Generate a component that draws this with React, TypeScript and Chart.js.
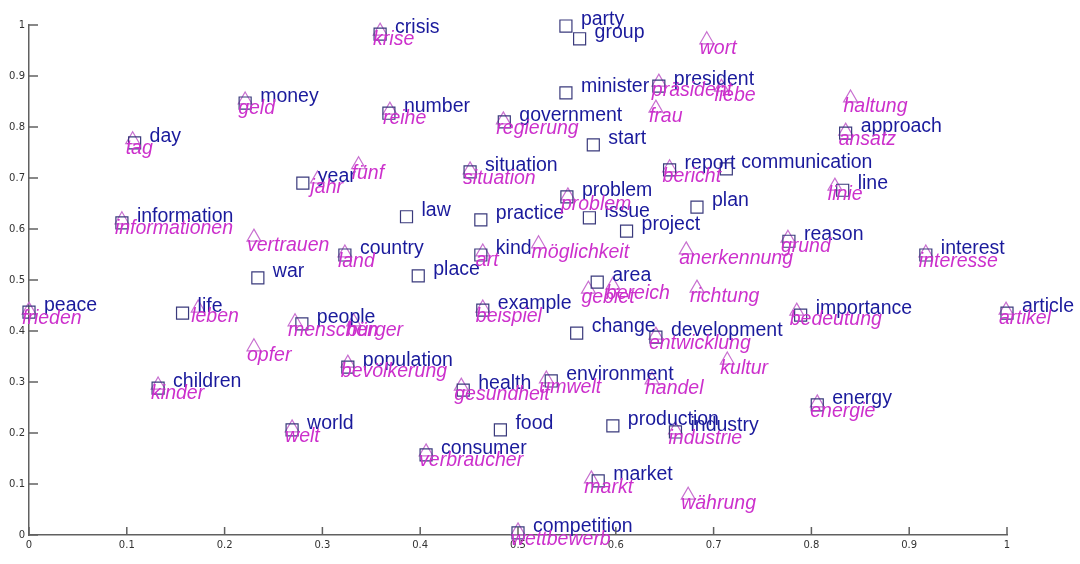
import React, { useEffect, useRef } from "react";
import { Chart, registerables } from "chart.js";

Chart.register(...registerables);

const englishWords = [
  "party", "group", "crisis", "minister", "president", "money", "number", "government",
  "start", "day", "approach", "communication", "report", "situation", "year", "line",
  "problem", "plan", "law", "practice", "issue", "information", "project", "reason",
  "country", "kind", "interest", "war", "place", "area", "peace", "life", "example",
  "importance", "article", "people", "change", "development", "population", "children",
  "health", "environment", "food", "production", "industry", "energy", "world",
  "consumer", "market", "competition",
];
const englishX = [
  0.549, 0.563, 0.359, 0.549, 0.644, 0.221, 0.368, 0.486,
  0.577, 0.108, 0.835, 0.713, 0.655, 0.451, 0.280, 0.832,
  0.550, 0.683, 0.386, 0.462, 0.573, 0.095, 0.611, 0.777,
  0.323, 0.462, 0.917, 0.234, 0.398, 0.581, 0.0, 0.157, 0.464,
  0.789, 1.0, 0.279, 0.560, 0.641, 0.326, 0.132,
  0.444, 0.534, 0.482, 0.597, 0.661, 0.806, 0.269,
  0.406, 0.582, 0.500,
];
const englishY = [
  0.998, 0.973, 0.982, 0.867, 0.880, 0.847, 0.827, 0.810,
  0.765, 0.769, 0.788, 0.718, 0.716, 0.712, 0.690, 0.676,
  0.663, 0.643, 0.624, 0.618, 0.622, 0.612, 0.596, 0.576,
  0.549, 0.549, 0.549, 0.504, 0.508, 0.496, 0.437, 0.435, 0.441,
  0.431, 0.435, 0.414, 0.396, 0.388, 0.329, 0.288,
  0.284, 0.302, 0.206, 0.214, 0.202, 0.255, 0.206,
  0.157, 0.106, 0.004,
];

const germanWords = [
  "frieden", "krise", "geld", "tag", "reihe", "regierung", "präsident", "liebe",
  "wort", "frau", "haltung", "ansatz", "bericht", "situation", "jahr", "fünf",
  "linie", "problem", "informationen", "vertrauen", "land", "art", "möglichkeit",
  "anerkennung", "grund", "interesse", "gebiet", "bereich", "richtung", "leben",
  "beispiel", "bedeutung", "artikel", "menschen", "bürger", "opfer", "entwicklung",
  "kultur", "bevölkerung", "kinder", "gesundheit", "umwelt", "handel", "energie",
  "industrie", "welt", "verbraucher", "markt", "währung", "wettbewerb",
];
const germanX = [
  0.0, 0.359, 0.221, 0.106, 0.369, 0.485, 0.644, 0.708,
  0.693, 0.641, 0.840, 0.835, 0.655, 0.451, 0.295, 0.337,
  0.824, 0.551, 0.095, 0.230, 0.323, 0.464, 0.521,
  0.672, 0.776, 0.917, 0.572, 0.597, 0.683, 0.173,
  0.464, 0.785, 0.999, 0.272, 0.332, 0.230, 0.641,
  0.714, 0.326, 0.132, 0.442, 0.529, 0.637, 0.806,
  0.661, 0.269, 0.406, 0.575, 0.674, 0.500,
];
const germanY = [
  0.441, 0.988, 0.853, 0.775, 0.833, 0.814, 0.888, 0.878,
  0.971, 0.837, 0.857, 0.792, 0.720, 0.716, 0.698, 0.726,
  0.684, 0.665, 0.618, 0.584, 0.553, 0.555, 0.571,
  0.559, 0.582, 0.553, 0.482, 0.490, 0.484, 0.445,
  0.445, 0.439, 0.441, 0.418, 0.418, 0.369, 0.392,
  0.343, 0.337, 0.294, 0.292, 0.306, 0.304, 0.259,
  0.206, 0.210, 0.163, 0.110, 0.078, 0.008,
];

const xTickLabels = ["0", "0.1", "0.2", "0.3", "0.4", "0.5", "0.6", "0.7", "0.8", "0.9", "1"];
const yTickLabels = ["0", "0.1", "0.2", "0.3", "0.4", "0.5", "0.6", "0.7", "0.8", "0.9", "1"];

const EN_TEXT = "#1a1a9c";
const EN_MARK = "#3a3a7c";
const DE_TEXT = "#cc30cc";
const DE_MARK = "#c870d0";

const labelPlugin = {
  id: "wordLabels",
  afterDatasetsDraw(chart: any) {
    const ctx = chart.ctx;
    const lists = [englishWords, germanWords];
    [0, 1].forEach((di) => {
      const meta = chart.getDatasetMeta(di);
      ctx.save();
      ctx.textBaseline = "alphabetic";
      ctx.textAlign = "left";
      if (di === 0) {
        ctx.font = "19.5px 'Liberation Sans', Arial, sans-serif";
        ctx.fillStyle = EN_TEXT;
      } else {
        ctx.font = "italic 19.5px 'Liberation Sans', Arial, sans-serif";
        ctx.fillStyle = DE_TEXT;
      }
      meta.data.forEach((pt: any, i: number) => {
        const w = lists[di][i];
        if (di === 0) ctx.fillText(w, pt.x + 15, pt.y - 1);
        else ctx.fillText(w, pt.x - 7, pt.y + 14);
      });
      ctx.restore();
    });
  },
};

const tickMarkPlugin = {
  id: "innerTicks",
  afterDraw(chart: any) {
    const ctx = chart.ctx;
    const xs = chart.scales.x;
    const ys = chart.scales.y;
    const area = chart.chartArea;
    ctx.save();
    ctx.strokeStyle = "#606060";
    ctx.lineWidth = 1.5;
    xs.ticks.forEach((t: any) => {
      const px = xs.getPixelForValue(t.value);
      ctx.beginPath();
      ctx.moveTo(px, area.bottom);
      ctx.lineTo(px, area.bottom - 8);
      ctx.stroke();
    });
    ys.ticks.forEach((t: any) => {
      const py = ys.getPixelForValue(t.value);
      ctx.beginPath();
      ctx.moveTo(area.left, py);
      ctx.lineTo(area.left + 9, py);
      ctx.stroke();
    });
    ctx.restore();
  },
};

export default function App() {
  const ref = useRef<HTMLCanvasElement | null>(null);
  useEffect(() => {
    if (!ref.current) return;
    const chart = new Chart(ref.current, {
      type: "scatter",
      data: {
        datasets: [
          {
            label: "English",
            data: englishX.map((x, i) => ({ x, y: englishY[i] })),
            pointStyle: "rect",
            pointRadius: 8.5,
            pointBorderWidth: 1.2,
            borderColor: EN_MARK,
            backgroundColor: "rgba(0,0,0,0)",
            clip: false,
          },
          {
            label: "German",
            data: germanX.map((x, i) => ({ x, y: germanY[i] })),
            pointStyle: "triangle",
            pointRadius: 8,
            pointBorderWidth: 1.2,
            borderColor: DE_MARK,
            backgroundColor: "rgba(0,0,0,0)",
            clip: false,
          },
        ],
      },
      options: {
        animation: false,
        responsive: false,
        maintainAspectRatio: false,
        layout: { padding: { top: 25, right: 73, left: 0, bottom: 0 } },
        plugins: { legend: { display: false }, tooltip: { enabled: false } },
        scales: {
          x: {
            type: "linear",
            min: 0,
            max: 1,
            grid: { display: false, drawTicks: false },
            border: { display: true, color: "#606060", width: 1.5 },
            ticks: {
              stepSize: 0.1,
              padding: 4,
              color: "#333",
              font: { size: 10, family: "'DejaVu Sans', sans-serif" },
              maxRotation: 0,
              callback: (_v: any, i: number) => xTickLabels[i],
            },
            afterFit: (s: any) => {
              s.height = 29;
            },
          },
          y: {
            type: "linear",
            min: 0,
            max: 1,
            grid: { display: false, drawTicks: false },
            border: { display: true, color: "#606060", width: 1.5 },
            ticks: {
              stepSize: 0.1,
              padding: 4,
              color: "#333",
              font: { size: 10, family: "'DejaVu Sans', sans-serif" },
              callback: (_v: any, i: number) => yTickLabels[i],
            },
            afterFit: (s: any) => {
              s.width = 29;
            },
          },
        },
      },
      plugins: [labelPlugin, tickMarkPlugin],
    });
    return () => chart.destroy();
  }, []);
  return (
    <div style={{ position: "fixed", left: 0, top: 0, width: 1080, height: 564, background: "#fff" }}>
      <canvas ref={ref} width={1080} height={564} />
    </div>
  );
}
